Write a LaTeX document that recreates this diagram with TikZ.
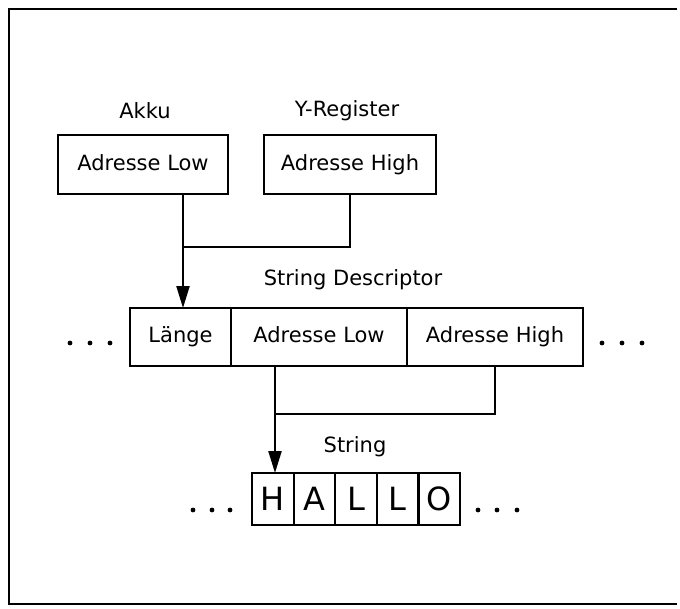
\documentclass[tikz,border=0pt]{standalone}
\usepackage{fontspec}
\setmainfont{DejaVu Sans}
\usetikzlibrary{positioning,arrows.meta}

\tikzset{
  cell/.style={draw,line width=2.2pt,inner sep=0pt,outer sep=0pt,minimum height=58pt,
    text height=15.5pt,text depth=4.5pt,font=\fontsize{21}{25}\selectfont},
  letter/.style={cell,minimum width=41.6pt,minimum height=52pt,text height=23.5pt,text depth=0pt,
    font=\fontsize{32}{36}\selectfont},
  caption/.style={font=\fontsize{21}{25}\selectfont},
  link/.style={line width=2.2pt},
  pointer/.style={link,-{Triangle[width=13pt,length=22pt]}},
}

\begin{document}
\begin{tikzpicture}[x=1pt,y=-1pt]
  \useasboundingbox (0,0) rectangle (680,608);
  \draw[line width=2.6pt] (677,9) -- (9,9) -- (9,604) -- (677,604);
  % registers
  \node[cell,minimum width=170pt,minimum height=59pt] (akku) at (143,164.5) {Adresse Low};
  \node[cell,minimum width=172pt,minimum height=59pt] (yreg) at (350,164.5) {Adresse High};
  \node[caption] (akkulabel) at (145,111) {Akku};
  \node[caption] (yreglabel) at (347,111) {Y-Register};
  % string descriptor
  \node[cell,minimum width=101pt] (laenge) at (180.5,337) {Länge};
  \node[cell,minimum width=176pt,right=0pt of laenge] (dlow) {Adresse Low};
  \node[cell,minimum width=176pt,right=0pt of dlow] (dhigh) {Adresse High};
  \node[caption] (desclabel) at (353,280) {String Descriptor};
  % string
  \foreach \ch [count=\i] in {H,A,L,L,O}
    \node[letter] (c\i) at ({252+41.6*(\i-0.5)},499) {\ch};
  \node[caption] (strlabel) at (355,447) {String};
  % pointers
  \coordinate (j1) at (183,247);
  \draw[link] (yreg.south) |- (j1);
  \draw[pointer] (akku.south -| j1) -- (laenge.north -| j1);
  \coordinate (j2) at (275,414);
  \draw[link] (dhigh.south) |- (j2);
  \draw[pointer] (dlow.south -| j2) -- (c1.north -| j2);
  % dots
  \foreach \x in {70,90,110,602,622,642} \fill (\x,343) circle (2.4);
  \foreach \x in {193,212,230,478,497,517} \fill (\x,510) circle (2.4);
\end{tikzpicture}
\end{document}
